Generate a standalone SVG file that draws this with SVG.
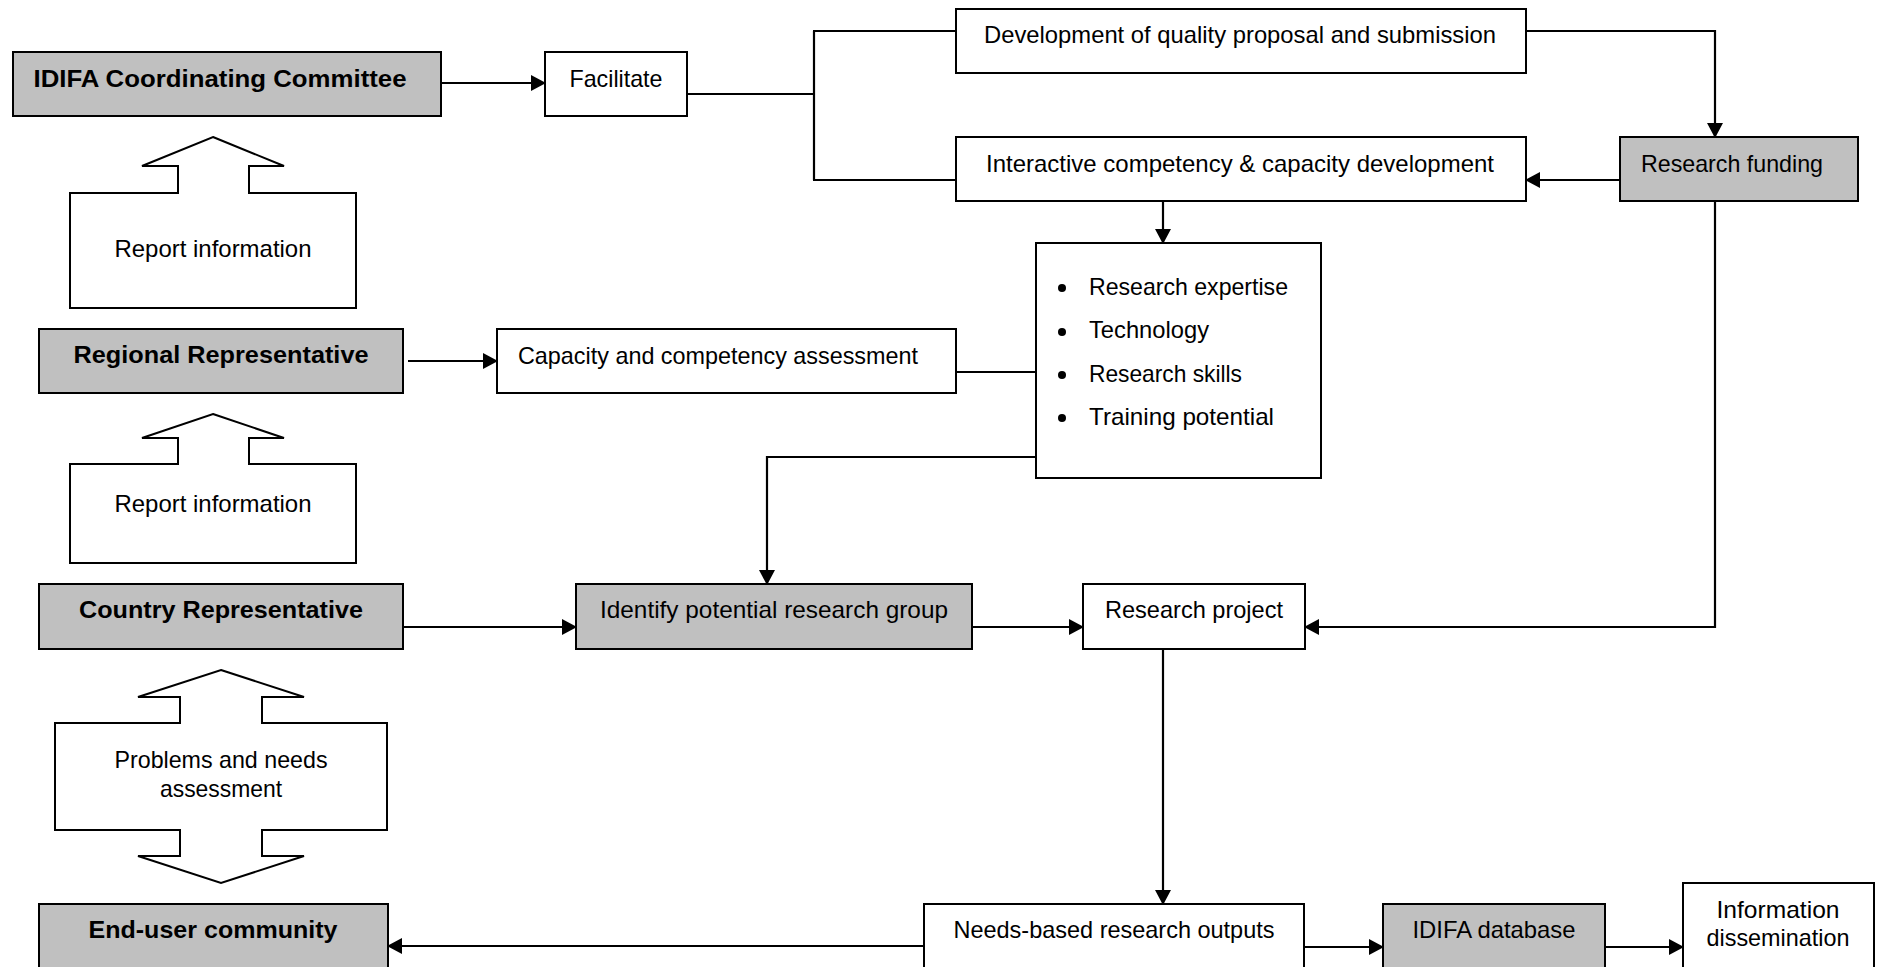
<svg xmlns="http://www.w3.org/2000/svg" width="1886" height="967" viewBox="0 0 1886 967">
<style>
  .box{fill:#fff;stroke:#000;stroke-width:2}
  .grey{fill:#c0c0c0;stroke:#000;stroke-width:2}
  .blk{fill:#fff;stroke:#000;stroke-width:2;stroke-linejoin:miter}
  .t{font-family:"Liberation Sans",Arial,sans-serif;font-size:24px;fill:#000}
  .b{font-weight:bold}
  .m{text-anchor:middle}
  .c{fill:none;stroke:#000;stroke-width:2.2}
</style>
<defs>
  <marker id="ah" markerUnits="userSpaceOnUse" markerWidth="15" markerHeight="16" refX="14" refY="8" orient="auto">
    <path d="M0,0 L15,8 L0,16 Z" fill="#000"/>
  </marker>
</defs>
<rect width="1886" height="967" fill="#fff"/>

<g id="connectors">
  <path class="c" d="M441,83 H545" marker-end="url(#ah)"/>
  <path class="c" d="M687,94 H814 M814,31 V180 M813,31 H956 M813,180 H956"/>
  <path class="c" d="M1526,31 H1715 V137" marker-end="url(#ah)"/>
  <path class="c" d="M1620,180 H1526" marker-end="url(#ah)"/>
  <path class="c" d="M1163,201 V243" marker-end="url(#ah)"/>
  <path class="c" d="M956,372 H1036"/>
  <path class="c" d="M408,361 H497" marker-end="url(#ah)"/>
  <path class="c" d="M1036,457 H767 V584" marker-end="url(#ah)"/>
  <path class="c" d="M403,627 H576" marker-end="url(#ah)"/>
  <path class="c" d="M972,627 H1083" marker-end="url(#ah)"/>
  <path class="c" d="M1715,201 V627 H1305" marker-end="url(#ah)"/>
  <path class="c" d="M1163,649 V904" marker-end="url(#ah)"/>
  <path class="c" d="M924,946 H388" marker-end="url(#ah)"/>
  <path class="c" d="M1304,947 H1383" marker-end="url(#ah)"/>
  <path class="c" d="M1605,947 H1683" marker-end="url(#ah)"/>
</g>

<g id="idifa-committee">
  <rect class="grey" x="13" y="52" width="428" height="64"/>
  <text class="t b m" x="220" y="87" textLength="373" lengthAdjust="spacingAndGlyphs">IDIFA Coordinating Committee</text>
</g>
<g id="facilitate">
  <rect class="box" x="545" y="52" width="142" height="64"/>
  <text class="t m" x="616" y="87" textLength="93" lengthAdjust="spacingAndGlyphs">Facilitate</text>
</g>
<g id="development">
  <rect class="box" x="956" y="9" width="570" height="64"/>
  <text class="t m" x="1240" y="43" textLength="512" lengthAdjust="spacingAndGlyphs">Development of quality proposal and submission</text>
</g>
<g id="interactive">
  <rect class="box" x="956" y="137" width="570" height="64"/>
  <text class="t m" x="1240" y="172" textLength="508" lengthAdjust="spacingAndGlyphs">Interactive competency &amp; capacity development</text>
</g>
<g id="research-funding">
  <rect class="grey" x="1620" y="137" width="238" height="64"/>
  <text class="t m" x="1732" y="172" textLength="182" lengthAdjust="spacingAndGlyphs">Research funding</text>
</g>
<g id="report-info-1">
  <path class="blk" d="M213,137 L284,166 L249,166 L249,193 L356,193 L356,308 L70,308 L70,193 L178,193 L178,166 L142,166 Z"/>
  <text class="t m" x="213" y="257" textLength="197" lengthAdjust="spacingAndGlyphs">Report information</text>
</g>
<g id="resources">
  <rect class="box" x="1036" y="243" width="285" height="235"/>
  <circle cx="1062" cy="288" r="4"/>
  <circle cx="1062" cy="332" r="4"/>
  <circle cx="1062" cy="375" r="4"/>
  <circle cx="1062" cy="418" r="4"/>
  <text class="t" x="1089" y="295" textLength="199" lengthAdjust="spacingAndGlyphs">Research expertise</text>
  <text class="t" x="1089" y="338" textLength="120" lengthAdjust="spacingAndGlyphs">Technology</text>
  <text class="t" x="1089" y="382" textLength="153" lengthAdjust="spacingAndGlyphs">Research skills</text>
  <text class="t" x="1089" y="425" textLength="185" lengthAdjust="spacingAndGlyphs">Training potential</text>
</g>
<g id="regional">
  <rect class="grey" x="39" y="329" width="364" height="64"/>
  <text class="t b m" x="221" y="363" textLength="295" lengthAdjust="spacingAndGlyphs">Regional Representative</text>
</g>
<g id="capacity">
  <rect class="box" x="497" y="329" width="459" height="64"/>
  <text class="t" x="518" y="364" textLength="400" lengthAdjust="spacingAndGlyphs">Capacity and competency assessment</text>
</g>
<g id="report-info-2">
  <path class="blk" d="M213,414 L284,438 L249,438 L249,464 L356,464 L356,563 L70,563 L70,464 L178,464 L178,438 L142,438 Z"/>
  <text class="t m" x="213" y="512" textLength="197" lengthAdjust="spacingAndGlyphs">Report information</text>
</g>
<g id="country">
  <rect class="grey" x="39" y="584" width="364" height="65"/>
  <text class="t b m" x="221" y="618" textLength="284" lengthAdjust="spacingAndGlyphs">Country Representative</text>
</g>
<g id="identify">
  <rect class="grey" x="576" y="584" width="396" height="65"/>
  <text class="t m" x="774" y="618" textLength="348" lengthAdjust="spacingAndGlyphs">Identify potential research group</text>
</g>
<g id="research-project">
  <rect class="box" x="1083" y="584" width="222" height="65"/>
  <text class="t m" x="1194" y="618" textLength="178" lengthAdjust="spacingAndGlyphs">Research project</text>
</g>
<g id="problems">
  <path class="blk" d="M221,670 L304,697 L262,697 L262,723 L387,723 L387,830 L262,830 L262,856 L304,856 L221,883 L138,856 L180,856 L180,830 L55,830 L55,723 L180,723 L180,697 L138,697 Z"/>
  <text class="t m" x="221" y="768" textLength="213" lengthAdjust="spacingAndGlyphs">Problems and needs</text>
  <text class="t m" x="221" y="797" textLength="122" lengthAdjust="spacingAndGlyphs">assessment</text>
</g>
<g id="end-user">
  <rect class="grey" x="39" y="904" width="349" height="80"/>
  <text class="t b m" x="213" y="938" textLength="249" lengthAdjust="spacingAndGlyphs">End-user community</text>
</g>
<g id="needs-based">
  <rect class="box" x="924" y="904" width="380" height="80"/>
  <text class="t m" x="1114" y="938" textLength="321" lengthAdjust="spacingAndGlyphs">Needs-based research outputs</text>
</g>
<g id="idifa-database">
  <rect class="grey" x="1383" y="904" width="222" height="80"/>
  <text class="t m" x="1494" y="938" textLength="163" lengthAdjust="spacingAndGlyphs">IDIFA database</text>
</g>
<g id="info-dissemination">
  <rect class="box" x="1683" y="883" width="191" height="100"/>
  <text class="t m" x="1778" y="918" textLength="123" lengthAdjust="spacingAndGlyphs">Information</text>
  <text class="t m" x="1778" y="946" textLength="143" lengthAdjust="spacingAndGlyphs">dissemination</text>
</g>
</svg>
